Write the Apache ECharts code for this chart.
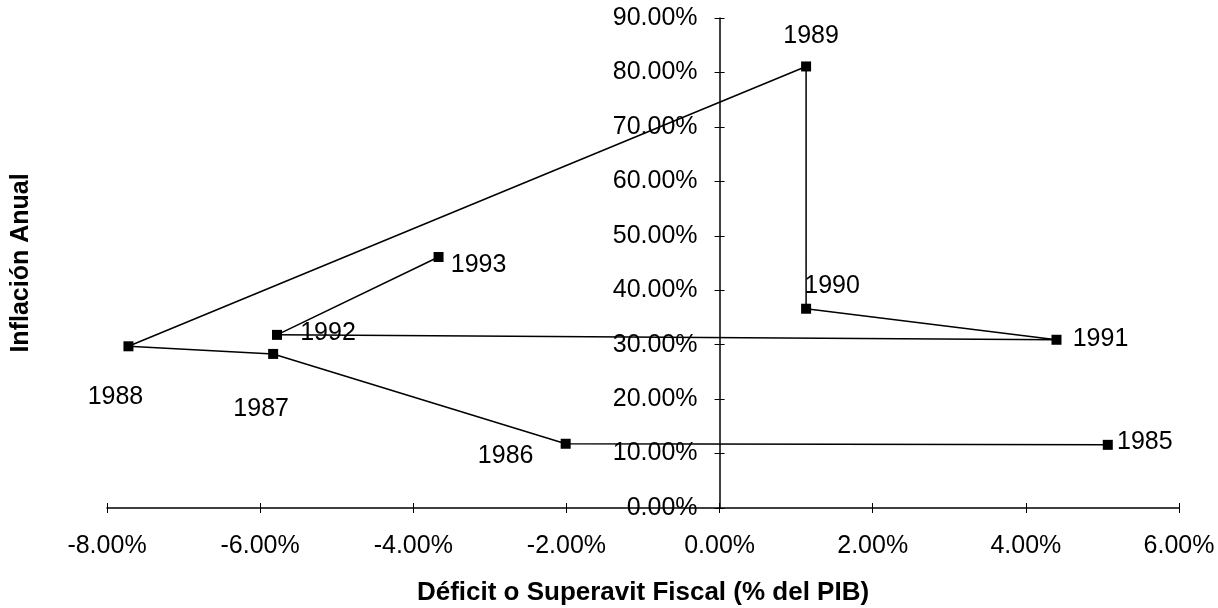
<!DOCTYPE html>
<html>
<head>
<meta charset="utf-8">
<script src="https://cdn.jsdelivr.net/npm/echarts@6/dist/echarts.min.js"></script>
<style>
  html, body { margin: 0; padding: 0; background: #fff; }
  #main { width: 1218px; height: 608px; }
</style>
</head>
<body>
<div id="main"></div>
<script>
// years and values (percent)
var years = ['1985', '1986', '1987', '1988', '1989', '1990', '1991', '1992', '1993'];
var deficit = [5.07, -2.01, -5.83, -7.72, 1.13, 1.13, 4.40, -5.78, -3.67];
var inflation = [11.6, 11.8, 28.3, 29.7, 81.1, 36.6, 30.9, 31.8, 46.1];

var xTicks = { min: -8, max: 6, step: 2 };
var yTicks = { min: 0, max: 90, step: 10 };

// where each year label sits relative to its marker (px)
var labelOffset = {
    '1985': [37, -3], '1986': [-60, 12], '1987': [-12, 55], '1988': [-13, 51],
    '1989': [5, -30], '1990': [26, -23], '1991': [44, -1], '1992': [51, -2],
    '1993': [40, 8]
};

var font = 'Arial, "Liberation Sans", sans-serif';
function pct(v) { return v.toFixed(2) + '%'; }

var points = [];
for (var i = 0; i < years.length; i++) {
    points.push({
        name: years[i],
        value: [deficit[i], inflation[i]],
        label: { offset: labelOffset[years[i]] }
    });
}

// the vertical axis crosses at x = 0, so it gets its own grid starting there
var plotLeft = 107, plotRight = 39, plotTop = 18, plotBottom = 100;
var zeroLeft = plotLeft + (0 - xTicks.min) / (xTicks.max - xTicks.min) * (1218 - plotLeft - plotRight);

function grid(left) {
    return { left: left, right: plotRight, top: plotTop, bottom: plotBottom, containLabel: false, outerBoundsMode: 'none' };
}
var tickStyle = { color: '#000', width: 1 };

var myChart = echarts.init(document.getElementById('main'));

var option = {
    backgroundColor: '#fff',
    animation: false,
    grid: [grid(plotLeft), grid(plotLeft), grid(zeroLeft), grid(zeroLeft)],
    xAxis: [
        {
            gridIndex: 0, type: 'value', min: xTicks.min, max: xTicks.max, interval: xTicks.step,
            axisLine: { onZero: false, lineStyle: { color: '#000', width: 1.5 } },
            axisTick: { show: true, length: 5, lineStyle: tickStyle },
            axisLabel: { formatter: pct, color: '#000', fontFamily: font, fontSize: 25, margin: 26 },
            splitLine: { show: false },
            name: 'Déficit o Superavit Fiscal (% del PIB)',
            nameLocation: 'middle', nameGap: 72,
            nameTextStyle: { color: '#000', fontFamily: font, fontSize: 26, fontWeight: 'bold' }
        },
        {
            // upper half of the cross ticks
            gridIndex: 1, type: 'value', min: xTicks.min, max: xTicks.max, interval: xTicks.step,
            axisLine: { show: false, onZero: false },
            axisTick: { show: true, inside: true, length: 5, lineStyle: tickStyle },
            axisLabel: { show: false },
            splitLine: { show: false }
        },
        { gridIndex: 2, type: 'value', min: 0, max: 1, show: false },
        { gridIndex: 3, type: 'value', min: 0, max: 1, show: false }
    ],
    yAxis: [
        { gridIndex: 0, type: 'value', min: yTicks.min, max: yTicks.max, interval: yTicks.step, show: false },
        { gridIndex: 1, type: 'value', min: yTicks.min, max: yTicks.max, interval: yTicks.step, show: false },
        {
            gridIndex: 2, type: 'value', min: yTicks.min, max: yTicks.max, interval: yTicks.step,
            axisLine: { show: true, onZero: false, lineStyle: { color: '#000', width: 1.5 } },
            axisTick: { show: true, length: 5, lineStyle: tickStyle },
            axisLabel: { formatter: pct, color: '#000', fontFamily: font, fontSize: 25, margin: 22 },
            splitLine: { show: false },
            name: 'Inflación Anual',
            nameLocation: 'middle', nameGap: Math.round(zeroLeft - 34),
            nameTextStyle: { color: '#000', fontFamily: font, fontSize: 25, fontWeight: 'bold' }
        },
        {
            // right half of the cross ticks
            gridIndex: 3, type: 'value', min: yTicks.min, max: yTicks.max, interval: yTicks.step,
            axisLine: { show: false, onZero: false },
            axisTick: { show: true, inside: true, length: 5, lineStyle: tickStyle },
            axisLabel: { show: false },
            splitLine: { show: false }
        }
    ],
    series: [
        {
            type: 'line',
            xAxisIndex: 0, yAxisIndex: 0,
            data: points,
            symbol: 'rect',
            symbolSize: 10,
            itemStyle: { color: '#000' },
            lineStyle: { color: '#000', width: 1.5 },
            label: {
                show: true,
                position: 'inside',
                align: 'center',
                verticalAlign: 'middle',
                formatter: '{b}',
                color: '#000',
                fontFamily: font,
                fontSize: 25
            }
        }
    ]
};

myChart.setOption(option);
</script>
</body>
</html>
